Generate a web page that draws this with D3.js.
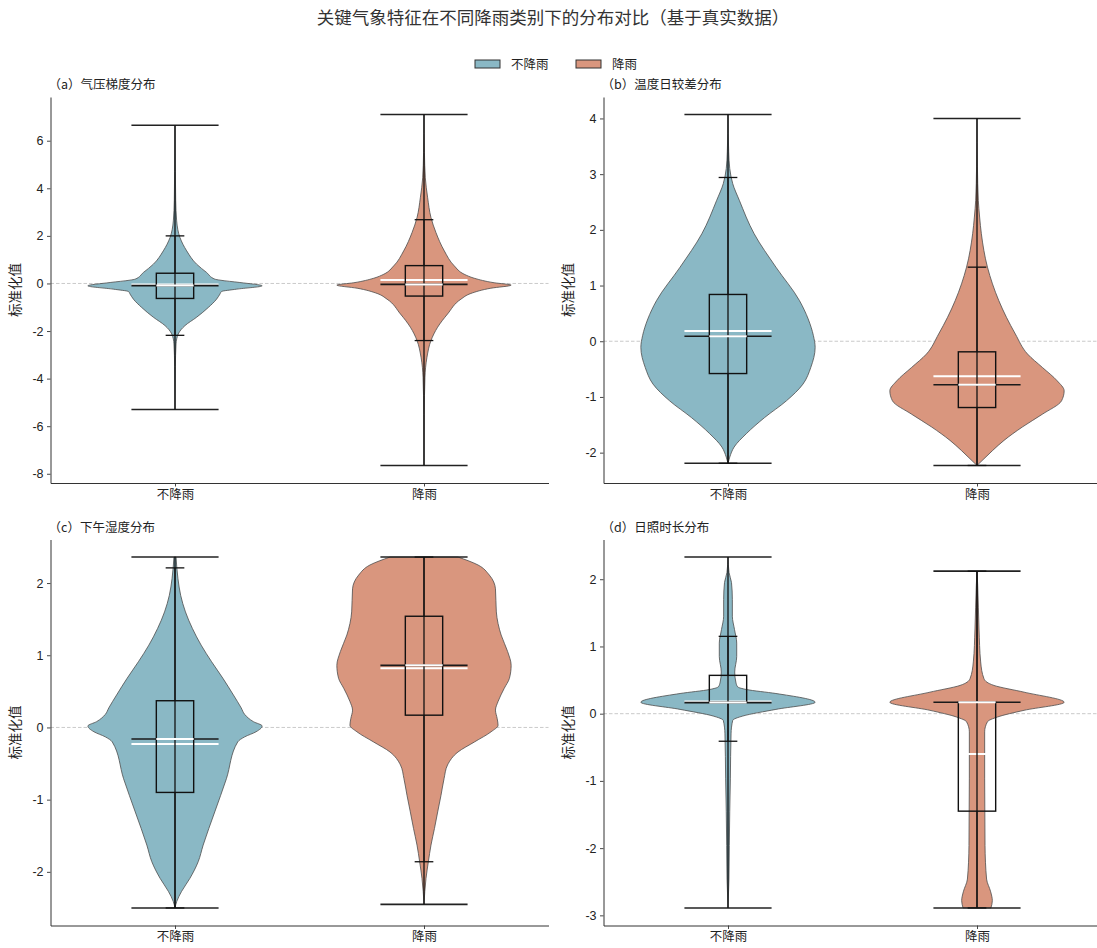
<!DOCTYPE html>
<html>
<head>
<meta charset="utf-8">
<script src="https://cdn.jsdelivr.net/npm/d3@7"></script>
<style>
  body { margin: 0; background: #fff; }
  svg { display: block; }
  text { font-family: "Noto Sans CJK SC", "Noto Sans", sans-serif; fill: #222; }
  .num text { font-family: "Liberation Sans", Arial, sans-serif; }
</style>
</head>
<body>
<svg width="1097" height="948"></svg>
<script>
// ---- data ----
const categories = ["不降雨", "降雨"];
const seriesColors = ["#8ab8c5", "#d9967e"];
const chartTitle = "关键气象特征在不同降雨类别下的分布对比（基于真实数据）";
const panelTitles = ["（a）气压梯度分布", "（b）温度日较差分布", "（c）下午湿度分布", "（d）日照时长分布"];
const yLabel = "标准化值";
const yTicks = [
  [-8, -6, -4, -2, 0, 2, 4, 6],
  [-2, -1, 0, 1, 2, 3, 4],
  [-2, -1, 0, 1, 2],
  [-3, -2, -1, 0, 1, 2]
];

// per panel: [不降雨, 降雨]
const minVals    = [[-5.30, -7.65], [-2.19, -2.23], [-2.50, -2.45], [-2.89, -2.89]];
const maxVals    = [[ 6.65,  7.10], [ 4.07,  4.00], [ 2.36,  2.36], [ 2.33,  2.12]];
const q1Vals     = [[-0.63, -0.53], [-0.58, -1.19], [-0.90,  0.17], [ 0.17, -1.45]];
const medianVals = [[-0.09, -0.04], [ 0.09, -0.78], [-0.16,  0.86], [ 0.165, 0.17]];
const q3Vals     = [[ 0.43,  0.75], [ 0.84, -0.19], [ 0.37,  1.54], [ 0.57,  0.17]];
const meanVals   = [[-0.04,  0.15], [ 0.186,-0.63], [-0.23,  0.82], [ 0.18, -0.60]];
const whiskerLo  = [[-2.18, -2.40], [-2.19, -2.23], [-2.50, -1.86], [-0.41, -2.89]];
const whiskerHi  = [[ 2.00,  2.68], [ 2.94,  1.33], [ 2.21,  2.36], [ 1.15,  2.12]];

// violin outlines: [value, relative density (1 = widest)]
const densA0 = [[6.65,0],[4.7,0.004],[3.5,0.008],[2.63,0.019],[1.93,0.057],[1.37,0.134],[0.81,0.248],[0.46,0.363],[0.18,0.458],[0.14,0.515],[0.04,0.744],[-0.1,1.0],[-0.24,0.706],[-0.34,0.534],[-0.45,0.515],[-0.66,0.477],[-1.01,0.382],[-1.42,0.248],[-1.77,0.115],[-2.12,0.038],[-2.54,0.012],[-3.5,0.004],[-5.3,0]];
const densA1 = [[7.1,0],[5.5,0.005],[4.44,0.015],[3.6,0.042],[2.77,0.08],[2.14,0.137],[1.37,0.233],[0.74,0.347],[0.39,0.46],[0.22,0.576],[0.03,0.805],[-0.07,1.0],[-0.2,0.767],[-0.42,0.538],[-0.66,0.424],[-1.28,0.271],[-1.84,0.156],[-2.4,0.08],[-3.1,0.034],[-3.94,0.011],[-5.5,0.003],[-7.65,0]];
const densB0 = [[4.07,0],[3.4,0.008],[3.1,0.02],[2.83,0.054],[2.53,0.13],[1.93,0.30],[1.33,0.55],[0.73,0.82],[0.4,0.92],[0.1,0.98],[-0.11,1.0],[-0.47,0.95],[-0.77,0.86],[-1.07,0.67],[-1.37,0.42],[-1.66,0.21],[-1.9,0.07],[-2.08,0.02],[-2.19,0]];
const densB1 = [[4.0,0],[3.13,0.005],[2.53,0.015],[2.23,0.03],[1.93,0.05],[1.33,0.12],[0.73,0.25],[0.13,0.44],[-0.23,0.58],[-0.47,0.75],[-0.71,0.92],[-0.89,1.0],[-1.07,0.97],[-1.31,0.75],[-1.54,0.52],[-1.78,0.31],[-1.96,0.18],[-2.11,0.08],[-2.23,0]];
const densC0 = [[2.36,0.012],[2.06,0.034],[1.83,0.065],[1.6,0.12],[1.37,0.2],[1.14,0.3],[0.91,0.42],[0.68,0.55],[0.45,0.67],[0.27,0.76],[0.18,0.8],[0.08,0.9],[0.02,1.0],[-0.06,0.93],[-0.13,0.8],[-0.2,0.72],[-0.71,0.59],[-1.17,0.456],[-1.63,0.323],[-1.86,0.266],[-2.09,0.171],[-2.27,0.076],[-2.41,0.02],[-2.5,0]];
const densC1 = [[2.36,0.39],[2.25,0.62],[2.11,0.75],[1.92,0.82],[1.6,0.83],[1.28,0.885],[1.05,0.96],[0.86,1.0],[0.68,0.98],[0.54,0.92],[0.36,0.85],[0.24,0.82],[0.12,0.84],[0.03,0.85],[-0.06,0.77],[-0.2,0.58],[-0.34,0.39],[-0.52,0.27],[-0.71,0.23],[-0.94,0.195],[-1.17,0.157],[-1.4,0.12],[-1.63,0.08],[-1.86,0.05],[-2.09,0.023],[-2.45,0]];
const densD0 = [[2.33,0],[2.1,0.012],[1.95,0.04],[1.7,0.05],[1.45,0.05],[1.25,0.075],[1.05,0.1],[0.85,0.1],[0.62,0.077],[0.47,0.09],[0.40,0.11],[0.36,0.21],[0.30,0.55],[0.17,1.0],[0.064,0.55],[-0.035,0.17],[-0.1,0.054],[-0.3,0.035],[-0.97,0.027],[-1.46,0.02],[-1.96,0.015],[-2.46,0.011],[-2.89,0]];
const densD1 = [[2.12,0],[1.91,0.008],[1.26,0.023],[0.77,0.042],[0.52,0.08],[0.42,0.195],[0.32,0.54],[0.17,1.0],[0.05,0.54],[-0.05,0.234],[-0.12,0.12],[-0.27,0.088],[-0.97,0.088],[-1.96,0.092],[-2.46,0.11],[-2.65,0.157],[-2.78,0.176],[-2.89,0.16]];
const densities = [[densA0, densA1], [densB0, densB1], [densC0, densC1], [densD0, densD1]];

// ---- layout ----
const svg = d3.select("svg");
const panelW = 498, panelH = 386;
const panelPos = [[50.5, 97], [603.5, 97], [50.5, 539.5], [603.5, 539.5]];

svg.append("text")
  .attr("x", 553).attr("y", 24)
  .attr("text-anchor", "middle")
  .style("font-size", "17.5px")
  .style("fill", "#333")
  .text(chartTitle);

// legend
const legend = svg.append("g").attr("transform", "translate(475,60)");
categories.forEach((c, i) => {
  const row = legend.append("g").attr("transform", `translate(${i * 101},0)`);
  row.append("rect")
    .attr("width", 25).attr("height", 8)
    .attr("fill", seriesColors[i])
    .attr("stroke", "#333").attr("stroke-width", 1);
  row.append("text")
    .attr("x", 36).attr("y", 8.5)
    .style("font-size", "12.5px")
    .text(c);
});

panelPos.forEach(([left, top], p) => {
  const g = svg.append("g").attr("transform", `translate(${left},${top})`);

  const lo = d3.min(minVals[p]), hi = d3.max(maxVals[p]);
  const pad = (hi - lo) * 0.05;
  const y = d3.scaleLinear().domain([lo - pad, hi + pad]).range([panelH, 0]);
  const x = d3.scalePoint().domain(categories).range([0, panelW]).padding(0.5);
  const step = x.step();

  // zero reference line
  g.append("line")
    .attr("x1", 0).attr("x2", panelW)
    .attr("y1", y(0)).attr("y2", y(0))
    .attr("stroke", "#c4c4c4").attr("stroke-width", 0.9)
    .attr("stroke-dasharray", "3.5,2");

  categories.forEach((c, i) => {
    const cx = x(c);
    const half = 0.35 * step;
    const area = d3.area()
      .curve(d3.curveMonotoneY)
      .y(d => y(d[0]))
      .x0(d => cx - d[1] * half)
      .x1(d => cx + d[1] * half);

    g.append("path")
      .datum(densities[p][i])
      .attr("d", area)
      .attr("fill", seriesColors[i])
      .attr("stroke", "#4d4d4d")
      .attr("stroke-width", 0.8);

    const hline = (v, w, color, sw) => g.append("line")
      .attr("x1", cx - w).attr("x2", cx + w)
      .attr("y1", y(v)).attr("y2", y(v))
      .attr("stroke", color).attr("stroke-width", sw);

    // violin statistics lines
    hline(meanVals[p][i], 0.175 * step, "#fff", 2);
    hline(minVals[p][i], 0.175 * step, "#222", 1.6);
    hline(maxVals[p][i], 0.175 * step, "#222", 1.6);
    g.append("line")
      .attr("x1", cx).attr("x2", cx)
      .attr("y1", y(minVals[p][i])).attr("y2", y(maxVals[p][i]))
      .attr("stroke", "#111").attr("stroke-width", 1.3);
    hline(medianVals[p][i], 0.175 * step, "#1a1a1a", 1.6);

    // box plot overlay
    const bw = 0.075 * step;
    g.append("rect")
      .attr("x", cx - bw).attr("width", 2 * bw)
      .attr("y", y(q3Vals[p][i]))
      .attr("height", y(q1Vals[p][i]) - y(q3Vals[p][i]))
      .attr("fill", "none")
      .attr("stroke", "#111").attr("stroke-width", 1.4);
    [[q3Vals[p][i], whiskerHi[p][i]], [q1Vals[p][i], whiskerLo[p][i]]].forEach(([a, b]) => {
      g.append("line")
        .attr("x1", cx).attr("x2", cx)
        .attr("y1", y(a)).attr("y2", y(b))
        .attr("stroke", "#111").attr("stroke-width", 1.2);
      hline(b, 0.0375 * step, "#111", 1.3);
    });
    hline(medianVals[p][i], bw, "#fff", 2);
  });

  // axes
  const yAxis = g.append("g").attr("class", "num")
    .call(d3.axisLeft(y).tickValues(yTicks[p]).tickFormat(d => String(d))
      .tickSize(3.5).tickPadding(3.5).tickSizeOuter(0));
  const xAxis = g.append("g").attr("transform", `translate(0,${panelH})`)
    .call(d3.axisBottom(x).tickSize(3.5).tickPadding(3.5).tickSizeOuter(0));
  [yAxis, xAxis].forEach(ax => {
    ax.select(".domain").attr("stroke", "#333").attr("stroke-width", 1);
    ax.selectAll(".tick line").attr("stroke", "#333").attr("stroke-width", 0.9);
    ax.selectAll(".tick text").style("font-size", "12.5px").attr("fill", "#222");
  });

  g.append("text")
    .attr("transform", `translate(${-31},${panelH / 2}) rotate(-90)`)
    .attr("text-anchor", "middle")
    .style("font-size", "13.5px")
    .text(yLabel);

  g.append("text")
    .attr("x", -2).attr("y", -8)
    .style("font-size", "12.5px")
    .text(panelTitles[p]);
});
</script>
</body>
</html>
